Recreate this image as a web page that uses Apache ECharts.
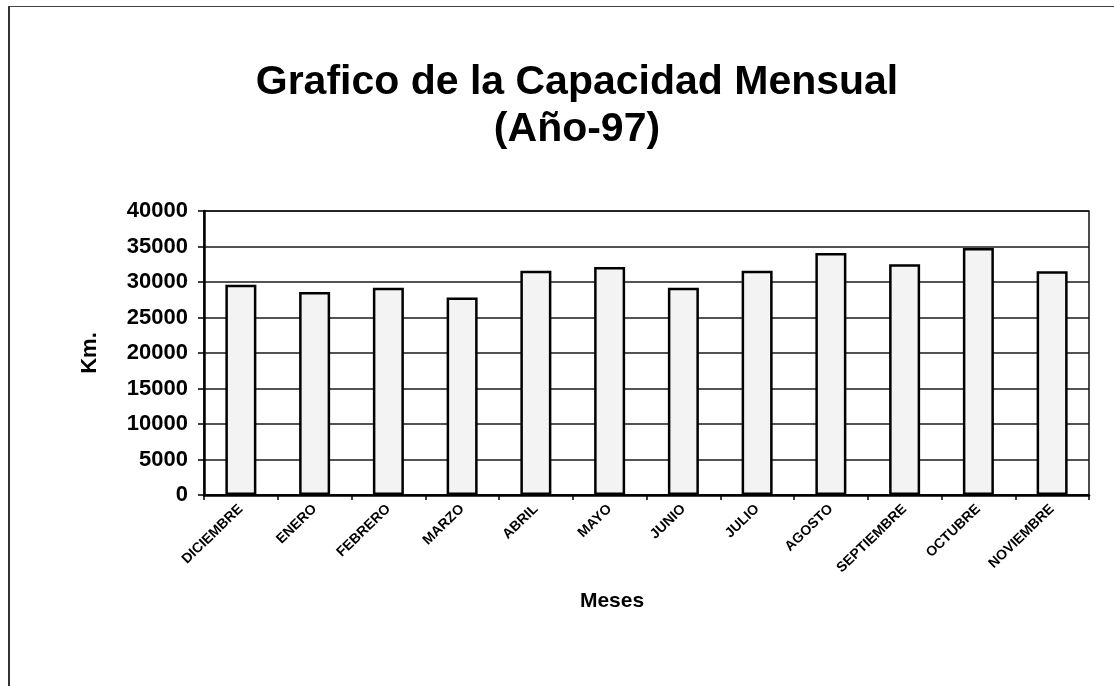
<!DOCTYPE html>
<html>
<head>
<meta charset="utf-8">
<script src="https://cdn.jsdelivr.net/npm/echarts@6/dist/echarts.min.js"></script>
<style>
  html, body { margin: 0; padding: 0; background: #fff; }
  #frame {
    position: absolute; left: 8px; top: 6px; width: 1106px; height: 680px;
    border-top: 1px solid #444; border-left: 2px solid #333;
  }
  #chart { position: absolute; left: 0; top: 0; width: 1114px; height: 686px; }
</style>
</head>
<body>
<div id="frame"></div>
<div id="chart"></div>
<script>
  // meses del año 97 (dic-96 a nov-97)
  const meses = ['DICIEMBRE', 'ENERO', 'FEBRERO', 'MARZO', 'ABRIL', 'MAYO',
    'JUNIO', 'JULIO', 'AGOSTO', 'SEPTIEMBRE', 'OCTUBRE', 'NOVIEMBRE']
  // capacidad mensual en Km.
  const capacidad = [29600, 28600, 29200, 27800, 31600, 32100,
    29200, 31600, 34100, 32500, 34800, 31500]
  const yTicks = [0, 5000, 10000, 15000, 20000, 25000, 30000, 35000, 40000]

  const font = 'Liberation Sans, Arial, sans-serif'
  let chart = echarts.init(document.getElementById('chart'))
  chart.setOption({
    backgroundColor: 'transparent',
    animation: false,
    title: [
      {
        text: 'Grafico de la Capacidad Mensual\n(Año-97)',
        left: 572,
        top: 54,
        textAlign: 'center',
        textStyle: {
          fontFamily: font,
          fontSize: 41,
          fontWeight: 'bold',
          color: '#000',
          lineHeight: 47
        }
      },
      {
        text: 'Meses',
        left: 607,
        top: 586,
        textAlign: 'center',
        textStyle: { fontFamily: font, fontSize: 21, fontWeight: 'bold', color: '#000' }
      }
    ],
    grid: {
      left: 204,
      right: 25,
      top: 211,
      bottom: 191,
      show: true,
      borderColor: '#111',
      borderWidth: 1.5
    },
    xAxis: {
      type: 'category',
      data: meses,
      axisLine: { lineStyle: { color: '#000', width: 2.5 } },
      axisTick: { show: true, length: 5, lineStyle: { color: '#000', width: 1.5 } },
      axisLabel: {
        rotate: 44,
        interval: 0,
        margin: 12,
        fontFamily: font,
        fontSize: 14,
        fontWeight: 'bold',
        color: '#000'
      }
    },
    yAxis: {
      type: 'value',
      min: yTicks[0],
      max: yTicks[yTicks.length - 1],
      interval: yTicks[1] - yTicks[0],
      name: 'Km.',
      nameLocation: 'middle',
      nameGap: 103,
      nameTextStyle: { fontFamily: font, fontSize: 22, fontWeight: 'bold', color: '#000' },
      axisLine: { show: true, lineStyle: { color: '#000', width: 2.5 } },
      axisTick: { show: true, length: 6, lineStyle: { color: '#000', width: 1.5 } },
      splitLine: { lineStyle: { color: '#1a1a1a', width: 1.5 } },
      axisLabel: {
        margin: 16,
        fontFamily: font,
        fontSize: 22,
        fontWeight: 'bold',
        color: '#000',
        formatter: function (v) { return String(v) }
      }
    },
    series: [
      {
        name: 'Km.',
        type: 'bar',
        data: capacidad,
        barWidth: 31,
        itemStyle: {
          color: '#f3f3f3',
          borderColor: '#000',
          borderWidth: 2.5
        }
      }
    ]
  })
</script>
</body>
</html>
